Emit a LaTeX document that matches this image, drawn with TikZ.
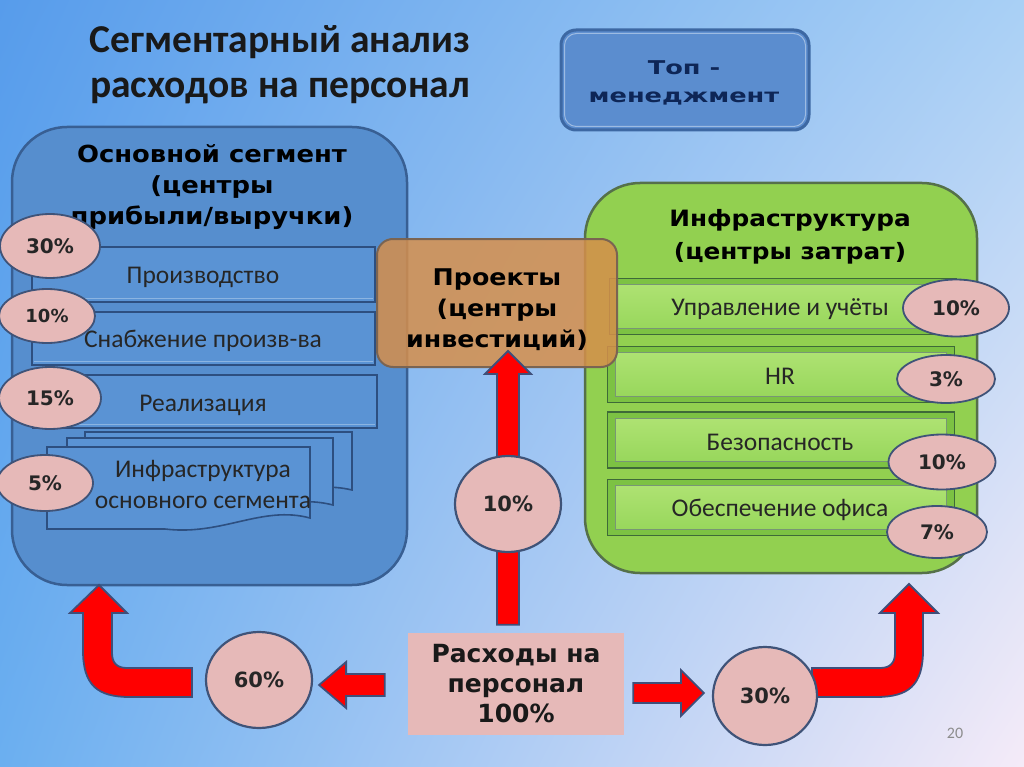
\documentclass[tikz,border=0pt]{standalone}
\usepackage{fontspec}
\setmainfont{Carlito}
\newfontfamily\hdrf[FakeStretch=1.1]{DejaVu Sans}
\newfontfamily\topf[FakeStretch=1.35]{DejaVu Sans}
\newfontfamily\pctf{DejaVu Sans}
\usetikzlibrary{shapes.geometric,calc,shadings}
\definecolor{lfill}{HTML}{568ECE}
\definecolor{lbord}{HTML}{385F93}
\definecolor{lsubf}{HTML}{5A93D4}
\definecolor{lsubd}{HTML}{2D4F80}
\definecolor{gfill}{HTML}{92D050}
\definecolor{gbord}{HTML}{55704A}
\definecolor{gsubo}{HTML}{7CC243}
\definecolor{gsubi}{HTML}{98D75C}
\definecolor{gsubt}{HTML}{AEE272}
\definecolor{gsubd}{HTML}{3E6A38}
\definecolor{pinkf}{HTML}{E6B9B8}
\definecolor{elld}{HTML}{3F5378}
\definecolor{orf}{HTML}{D68F4B}
\definecolor{ord}{HTML}{7A6452}
\definecolor{topfill}{HTML}{5B8DCF}
\definecolor{topd}{HTML}{3D68A3}
\definecolor{topt}{HTML}{0E2657}
\definecolor{arrb}{HTML}{3F4F7A}
\definecolor{bgUL}{HTML}{579CEB}
\definecolor{bgUR}{HTML}{A9D0F5}
\definecolor{bgLL}{HTML}{6BAFF0}
\definecolor{bgLR}{HTML}{F5EBF8}
\tikzset{
 bigbox/.style={line width=2.5pt, rounded corners=55pt, inner sep=0pt},
 lsub/.style={draw=lsubd, fill=lsubf, line width=1.6pt, inner sep=0pt},
 gsub/.style={draw=gsubd, fill=gsubo, line width=1.5pt, inner sep=0pt, minimum width=347pt, minimum height=56pt},
 ginner/.style={draw=gsubd!70, top color=gsubt, bottom color=gsubi, line width=0.8pt},
 pell/.style={ellipse, draw=elld, fill=pinkf, line width=1.8pt, inner sep=0pt, font=\pctf\bfseries\fontsize{20}{22}\selectfont, text=black!85},
 circ/.style={ellipse, draw=elld, fill=pinkf, line width=2.2pt, inner sep=0pt, font=\pctf\bfseries\fontsize{21}{23}\selectfont, text=black!85},
 subtxt/.style={font=\fontsize{25.5}{30}\selectfont, text=black!85, align=center},
 redarr/.style={fill=red, draw=arrb, line width=1.8pt, line join=miter},
}
\begin{document}
\begin{tikzpicture}[x=1pt,y=-1pt]
% background
\shade[upper left=bgUL, upper right=bgUR, lower left=bgLL, lower right=bgLR] (0,0) rectangle (1024,767);
\useasboundingbox (0,0) rectangle (1024,767);

% title
\node[anchor=base, align=center, font=\bfseries\fontsize{39.5}{45}\selectfont, text=black!90] (title) at (280,98) {Сегментарный анализ\\расходов на персонал};

% top management
\node[draw=topd, fill=topfill, line width=3pt, rounded corners=15pt, minimum width=248pt, minimum height=100pt] (top) at (685,80) {};
\draw[topfill!60!white, line width=1pt, rounded corners=12pt] ($(top.north west)+(5,5)$) rectangle ($(top.south east)+(-5,-5)$);
\node[anchor=base, align=center, font=\topf\bfseries\fontsize{19}{28}\selectfont, text=topt] (toptxt) at (684,103) {Топ -\\менеджмент};

% left big box
\node[bigbox, draw=lbord, fill=lfill, minimum width=395pt, minimum height=458pt] (lbox) at (209.5,356) {};
\node[anchor=base, align=center, font=\hdrf\bfseries\fontsize{23.5}{31}\selectfont, text=black] (lhead) at (212,225) {Основной сегмент\\(центры\\прибыли/выручки)};

% left sub boxes
\node[lsub, minimum width=343pt, minimum height=55pt] (prod) at (203.5,274.5) {};
\node[lsub, minimum width=343pt, minimum height=53pt] (snab) at (203.5,338.5) {};
\node[lsub, minimum width=344pt, minimum height=53pt] (real) at (205,401.5) {};
\foreach \n in {prod,snab,real}{
  \draw[lsubf!70!white, line width=0.8pt] ($(\n.south west)+(3,-4)$) -- ($(\n.south east)+(-3,-4)$);
}
% stacked documents
\draw[lsub] (85,432) -- (352,432) -- (352,490) .. controls (310,480) and (280,500) .. (230,496) -- (85,496) -- cycle;
\draw[lsub] (67,438) -- (333,438) -- (333,505) .. controls (290,494) and (255,514) .. (205,509) -- (67,509) -- cycle;
\draw[lsub] (47,447) -- (310,447) -- (310,518) .. controls (262,505) and (222,536) .. (165,529) -- (47,529) -- cycle;

\node[subtxt] (tprod) at (203,277) {Производство};
\node[subtxt] (tsnab) at (203,341) {Снабжение произв-ва};
\node[subtxt] (treal) at (203,405) {Реализация};
\node[subtxt, font=\fontsize{25.5}{31}\selectfont] (tinf) at (203,484) {Инфраструктура\\основного сегмента};

% left ellipses
\node[pell, minimum width=100pt, minimum height=64pt] (e30) at (50,246) {30\%};
\node[pell, minimum width=96pt, minimum height=54pt, font=\pctf\bfseries\fontsize{18}{20}\selectfont] (e10a) at (47,316) {10\%};
\node[pell, minimum width=102pt, minimum height=62pt] (e15) at (50,398) {15\%};
\node[pell, minimum width=96pt, minimum height=56pt] (e5) at (45,483) {5\%};

% right big box
\node[bigbox, draw=gbord, fill=gfill, minimum width=392pt, minimum height=390pt] (rbox) at (781,378) {};
\node[anchor=base, align=center, font=\hdrf\bfseries\fontsize{22.5}{33}\selectfont, text=black] (rhead) at (790,259) {Инфраструктура\\(центры затрат)};

% green sub boxes
\node[gsub] (g1) at (783,306.5) {};
\node[gsub] (g2) at (781,374.5) {};
\node[gsub] (g3) at (781,440) {};
\node[gsub] (g4) at (781,507.5) {};
\foreach \n in {g1,g2,g3,g4}{
  \draw[ginner] ($(\n.north west)+(9,7)$) rectangle ($(\n.south east)+(-9,-7)$);
}
\node[subtxt] (tg1) at (780,309) {Управление и учёты};
\node[subtxt] (tg2) at (780,376) {HR};
\node[subtxt] (tg3) at (780,442) {Безопасность};
\node[subtxt] (tg4) at (780,510) {Обеспечение офиса};

% right ellipses
\node[pell, minimum width=106pt, minimum height=57pt] (r10a) at (956,308) {10\%};
\node[pell, minimum width=98pt, minimum height=48pt] (r3) at (946,379) {3\%};
\node[pell, minimum width=107pt, minimum height=55pt] (r10b) at (942,462) {10\%};
\node[pell, minimum width=100pt, minimum height=52pt] (r7) at (937,532) {7\%};

% projects box
\node[draw=ord, fill=orf, fill opacity=0.85, line width=2pt, rounded corners=16pt, minimum width=240pt, minimum height=128pt] (proj) at (497,303) {};
\node[anchor=base, align=center, font=\hdrf\bfseries\fontsize{23}{31}\selectfont, text=black] (tproj) at (497,347) {Проекты\\(центры\\инвестиций)};

% personnel costs box
\node[fill=pinkf, minimum width=216pt, minimum height=102pt, inner sep=0pt] (rash) at (516,684) {};
\node[anchor=base, align=center, font=\pctf\bfseries\fontsize{25}{30}\selectfont, text=black!90] (trash) at (516,722) {Расходы на\\персонал\\100\%};

% circle positions
\coordinate (p10) at (508,504);
\coordinate (p60) at (259,680);
\coordinate (p30) at (765,696);

% red arrows
\coordinate (vtip) at ($(proj.south)+(11,-17)$);
\coordinate (vbase) at ($(rash.north)+(-8,-8)$);
\draw[redarr] ($(vbase)+(-11,0)$) -- ($(vtip)+(-11,23)$) -- ($(vtip)+(-23,23)$) -- (vtip) -- ($(vtip)+(23,23)$) -- ($(vtip)+(11,23)$) -- ($(vbase)+(11,0)$) -- cycle;

\coordinate (lutip) at (99,585);
\draw[redarr] (192,668) -- (127,668) .. controls (117,668) and (112,663) .. (112,653) -- (112,613) -- (127,613) -- (lutip) -- (70,613) -- (83,613) -- (83,650) .. controls (83,685) and (97,697) .. (130,697) -- (192,697) -- cycle;

\coordinate (rutip) at (909,584);
\draw[redarr] (812,668) -- (880,668) .. controls (890,668) and (895,663) .. (895,653) -- (895,613) -- (880,613) -- (rutip) -- (938,613) -- (923,613) -- (923,650) .. controls (923,685) and (909,697) .. (876,697) -- (812,697) -- cycle;

\node[circ, minimum width=106pt, minimum height=96pt] (c10) at (p10) {10\%};
\node[circ, minimum width=106pt, minimum height=96pt] (c60) at (p60) {60\%};
\node[circ, minimum width=104pt, minimum height=98pt] (c30) at (p30) {30\%};

\coordinate (ltip) at ($(c60.east)+(6,5)$);
\draw[redarr] ($(rash.west)+(-23,-10)$) -- ($(ltip)+(27,-11)$) -- ($(ltip)+(27,-23)$) -- (ltip) -- ($(ltip)+(27,23)$) -- ($(ltip)+(27,11)$) -- ($(rash.west)+(-23,12)$) -- cycle;

\coordinate (rtip) at ($(c30.west)+(-8,-3)$);
\draw[redarr] ($(rash.east)+(9,-1)$) -- ($(rtip)+(-23,-10)$) -- ($(rtip)+(-23,-23)$) -- (rtip) -- ($(rtip)+(-23,23)$) -- ($(rtip)+(-23,10)$) -- ($(rash.east)+(9,19)$) -- cycle;

% page number
\node[font=\fontsize{16}{18}\selectfont, text=black!45] (pg) at (955,733) {20};
\end{tikzpicture}
\end{document}
